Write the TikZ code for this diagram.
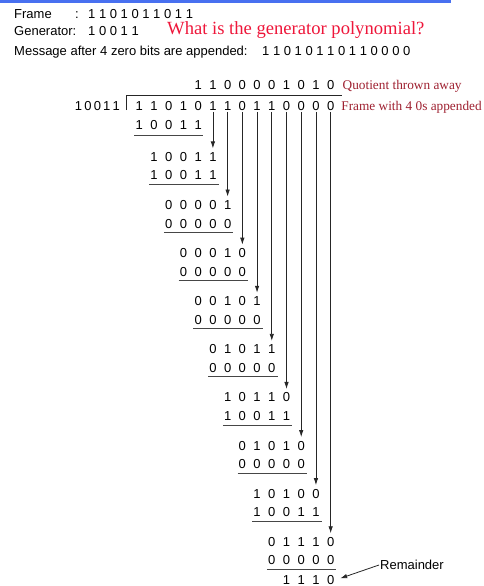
\documentclass[tikz,border=0pt]{standalone}
\usepackage{fontspec}
\setmainfont{Liberation Serif}
\setsansfont{Liberation Sans}
\usetikzlibrary{arrows.meta,positioning}

\begin{document}
\begin{tikzpicture}[x=1pt, y=-1pt, >={Latex[length=7pt,width=4.5pt]},
  font=\sffamily\fontsize{13}{15}\selectfont,
  bit/.style={inner sep=1pt, text height=9.3pt, text depth=0pt},
  head/.style={inner sep=0pt, anchor=base west},
  note/.style={inner sep=0pt, text=noteRed, font=\rmfamily\fontsize{13.3}{15}\selectfont},
  rule/.style={gray!55!black, line width=0.8pt},
  flow/.style={->, black!85, line width=0.8pt, shorten >=2.5pt}]

  \definecolor{barBlue}{RGB}{72,112,240}
  \definecolor{askRed}{RGB}{238,22,58}
  \definecolor{noteRed}{RGB}{158,32,48}

\useasboundingbox (0,0) rectangle (483,586);

% blue bar on top
\fill[barBlue] (0,0) rectangle (451,3.3);

% header lines
\node[head] (frm) at (14,18.3) {Frame};
\node[head] (frmcol) at (75,18.3) {:};
\node[head] (frmbits) at (88,18.3) {1 1 0 1 0 1 1 0 1 1};
\node[head] (gen) at (14,36) {Generator:};
\node[head] (genbits) at (88,36) {1 0 0 1 1};
\node[head, text=askRed, font=\rmfamily\fontsize{18.6}{21}\selectfont] (ask) at (167,35) {What is the generator polynomial?};
\node[head] (msg) at (14,56) {Message after 4 zero bits are appended:};
\node[head] (msgbits) at (262,56) {1 1 0 1 0 1 1 0 1 1 0 0 0 0};

% quotient and dividend, one column per bit
\foreach \b [count=\c from 4] in {1,1,0,0,0,0,1,0,1,0}
  \node[bit] (q\c) at (139.3+14.72*\c, 85) {\b};
\foreach \b [count=\c from 0] in {1,1,0,1,0,1,1,0,1,1,0,0,0,0}
  \node[bit] (d\c) at (139.3+14.72*\c, 106) {\b};

\node[note, base right=7pt of q13] (qlab) {Quotient thrown away};
\node[note, base right=5.7pt of d13] (flab) {Frame with 4 0s appended};

% divisor and the division bracket
\node[bit, anchor=east] (dvs) at (121,106) {1\,0\,0\,1\,1};
\draw[black!85, line width=0.8pt] (126.7,110) -- (126.7,95.3) -- (341.7,95.3);

% first subtraction
\foreach \b [count=\c from 0] in {1,0,0,1,1}
  \node[bit] (s\c) at (139.3+14.72*\c, 124.5) {\b};
\draw[rule] ([yshift=-4.8pt]s0.south west) -- ([yshift=-4.8pt]s4.south east);

% the remaining steps: partial remainder over divisor (or zeros)
\foreach \k/\up/\low in {1/{1,0,0,1,1}/{1,0,0,1,1}, 2/{0,0,0,0,1}/{0,0,0,0,0},
    3/{0,0,0,1,0}/{0,0,0,0,0}, 4/{0,0,1,0,1}/{0,0,0,0,0}, 5/{0,1,0,1,1}/{0,0,0,0,0},
    6/{1,0,1,1,0}/{1,0,0,1,1}, 7/{0,1,0,1,0}/{0,0,0,0,0}, 8/{1,0,1,0,0}/{1,0,0,1,1},
    9/{0,1,1,1,0}/{0,0,0,0,0}} {
  \foreach \b [count=\c from \k] in \up
    \node[bit] (u\k-\c) at (139.3+14.72*\c, 108.7+48.1*\k) {\b};
  \foreach \b [count=\c from \k] in \low
    \node[bit] (l\k-\c) at (139.3+14.72*\c, 127.2+48.1*\k) {\b};
  \pgfmathtruncatemacro\e{\k+4}
  \draw[rule] ([yshift=-3.3pt]l\k-\k.south west) -- ([yshift=-3.3pt, xshift=1pt]l\k-\e.south east);
  % bring the next bit down
  \draw[flow] (d\e) -- (u\k-\e);
}

% remainder
\foreach \b [count=\c from 10] in {1,1,1,0}
  \node[bit] (m\c) at (139.3+14.72*\c, 580) {\b};
\node[inner sep=1pt, anchor=west] (rem) at (379,565) {Remainder};
\draw[flow, shorten >=5pt] (rem.west) -- (m13.east);

\end{tikzpicture}
\end{document}
